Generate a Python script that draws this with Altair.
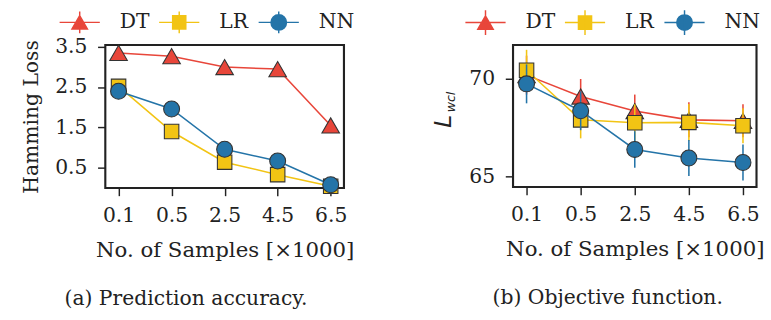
import altair as alt
import pandas as pd

FONT = "DejaVu Serif"
TXT = "#222222"
FS = 21

samples = ["0.1", "0.5", "2.5", "4.5", "6.5"]
methods = ["DT", "LR", "NN"]
colors = ["#e8463a", "#f2c414", "#2474a8"]
shapes = ["triangle-up", "square", "circle"]
sizes = [330, 225, 272]

# (a) Hamming loss
hl_dt = [3.35, 3.27, 3.00, 2.95, 1.55]
hl_lr = [2.52, 1.40, 0.64, 0.33, 0.04]
hl_nn = [2.40, 1.96, 0.96, 0.67, 0.08]

# (b) Objective function L_wcl (mean and error)
ob_dt = [70.20, 69.10, 68.35, 67.90, 67.85]
ob_dt_err = [1.00, 0.90, 0.85, 0.90, 0.85]
ob_lr = [70.45, 67.90, 67.75, 67.77, 67.60]
ob_lr_err = [1.05, 0.95, 0.95, 0.95, 0.90]
ob_nn = [69.75, 68.37, 66.38, 65.94, 65.71]
ob_nn_err = [1.00, 1.00, 0.94, 0.93, 0.93]


def leg_paths(ebar):
    line = "M-2.6,0H2.6M0,-%sV%s" % (ebar, ebar)
    return [
        line + "M0,-0.87L-1,0.87L1,0.87Z",
        line + "M-0.85,-0.85H0.85V0.85H-0.85Z",
        line + "M-1,0A1,1,0,1,0,1,0A1,1,0,1,0,-1,0Z",
    ]


def make_panel(vals, errs, ydom, yticks, ytitle, ebar, lx, ly):
    rows = []
    for m, v, e in zip(methods, vals, errs):
        for s, vi, ei in zip(samples, v, e):
            rows.append({"samples": s, "method": m, "value": vi,
                         "lo": vi - ei, "hi": vi + ei})
    df = pd.DataFrame(rows)
    x = alt.X("samples:O",
              scale=alt.Scale(type="point", domain=samples, padding=0.25),
              axis=alt.Axis(title="No. of Samples [×1000]", labelAngle=0,
                            labelPadding=10, titlePadding=15,
                            titleFontSize=22))
    yaxis = alt.Axis(values=yticks, format=".1f" if ydom[1] < 10 else "d",
                     title=ytitle, labelPadding=11, titlePadding=14)
    yscale = alt.Scale(domain=ydom, nice=False, zero=False)

    base = alt.Chart(df)
    layers = []
    show_err = any(e > 0 for ee in errs for e in ee)
    for m, c, shp, sz in zip(methods, colors, shapes, sizes):
        sub = base.transform_filter(alt.datum.method == m)
        if show_err:
            layers.append(sub.mark_rule(color=c, strokeWidth=1.6).encode(
                x=x, y=alt.Y("lo:Q", scale=yscale, axis=yaxis), y2="hi:Q"))
        layers.append(sub.mark_line(color=c, strokeWidth=1.6).encode(
            x=x, y=alt.Y("value:Q", scale=yscale, axis=yaxis)))
        layers.append(sub.mark_point(shape=shp, size=sz, filled=True, fill=c,
                                     stroke="#333333", strokeWidth=1.1,
                                     opacity=1).encode(
            x=x, y=alt.Y("value:Q", scale=yscale, axis=yaxis)))

    leg = alt.Legend(title=None, orient="none", legendX=lx, legendY=ly,
                     direction="horizontal", symbolSize=256,
                     symbolStrokeWidth=1.5, labelFont=FONT, labelFontSize=FS,
                     labelColor=TXT, labelOffset=31, columnPadding=0,
                     gridAlign="all", padding=0, labelBaseline="middle")
    cscale = alt.Scale(domain=methods, range=colors)
    layers.append(base.transform_filter("false").mark_point(
        filled=True, opacity=1, strokeWidth=1.5).encode(
        fill=alt.Fill("method:N", scale=cscale, legend=leg),
        stroke=alt.Stroke("method:N", scale=cscale, legend=leg),
        shape=alt.Shape("method:N",
                        scale=alt.Scale(domain=methods, range=leg_paths(ebar)),
                        legend=leg),
    ))
    return layers


def caption(t, dx):
    return alt.TitleParams(t, orient="bottom", font=FONT, fontSize=FS,
                           fontWeight="normal", color=TXT, anchor="middle",
                           offset=29, dx=dx)


left = alt.layer(*make_panel([hl_dt, hl_lr, hl_nn], [[0] * 5] * 3,
                             [0, 3.548], [0.5, 1.5, 2.5, 3.5], "Hamming Loss",
                             1.4, -37, -34)).properties(
    width=247, height=148, title=caption("(a) Prediction accuracy.", -40))

lab_L = alt.Chart(pd.DataFrame({"t": ["L"]})).mark_text(
    font="DejaVu Sans", fontStyle="italic", fontSize=24, angle=270,
    align="center", baseline="middle", color=TXT).encode(
    text="t:N", x=alt.value(-71), y=alt.value(79))
lab_sub = alt.Chart(pd.DataFrame({"t": ["wcl"]})).mark_text(
    font="DejaVu Sans", fontStyle="italic", fontSize=13, angle=270,
    align="center", baseline="middle", color=TXT).encode(
    text="t:N", x=alt.value(-64), y=alt.value(59))
right = alt.layer(*make_panel([ob_dt, ob_lr, ob_nn],
                              [ob_dt_err, ob_lr_err, ob_nn_err],
                              [64.45, 71.75], [65, 70], "",
                              1.6, -39, -34),
                  lab_L, lab_sub).properties(
    width=252, height=147, title=caption("(b) Objective function.", -28))

chart = alt.hconcat(left, right, spacing=77).resolve_scale(
    fill="independent", stroke="independent", shape="independent"
).resolve_legend(
    fill="independent", stroke="independent", shape="independent"
).properties(
    padding={"left": 20, "top": 5, "right": 6, "bottom": 0},
    background="white",
).configure_view(
    stroke="#222222", strokeWidth=2.2
).configure_axis(
    labelFont=FONT, labelFontSize=FS, labelColor=TXT,
    titleFont=FONT, titleFontSize=FS, titleColor=TXT, titleFontWeight="normal",
    domain=False, grid=False, tickColor="#222222", tickWidth=1.5, tickSize=8,
)

chart.save("out.html", embed_options={"renderer": "svg", "actions": False})
